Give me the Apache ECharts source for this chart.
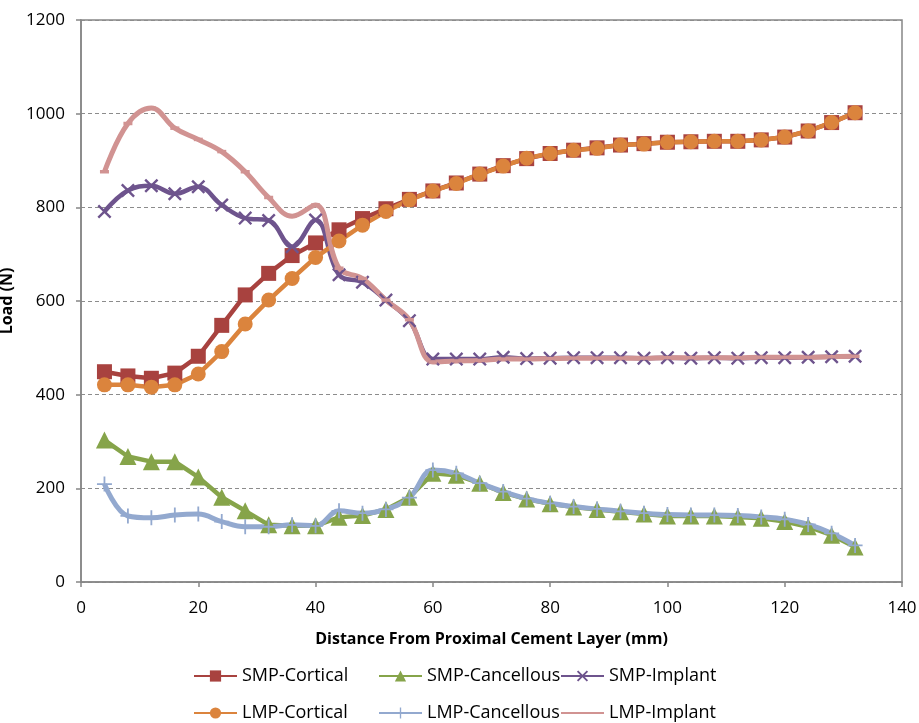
<!DOCTYPE html>
<html>
<head>
<meta charset="utf-8">
<script src="https://cdn.jsdelivr.net/npm/echarts@6/dist/echarts.min.js"></script>
<style>
html,body{margin:0;padding:0;background:#fff;}
#chart{width:919px;height:723px;}
</style>
</head>
<body>
<div id="chart"></div>
<script>
// Distance from proximal cement layer (mm)
var distances = [4,8,12,16,20,24,28,32,36,40,44,48,52,56,60,64,68,72,76,80,84,88,92,96,100,104,108,112,116,120,124,128,132];

var smpCortical   = [449,440,435,446,482,548,613,659,697,724,752,776,797,817,835,852,871,889,904,915,922,927,933,936,939,940,941,941,944,950,963,981,1002];
var smpCancellous = [303,268,257,257,224,181,152,122,120,120,138,142,155,181,232,228,211,191,177,167,160,155,150,145,141,141,141,139,136,129,118,100,75];
var smpImplant    = [791,836,846,829,844,805,777,772,716,773,656,640,602,558,476,476,476,480,477,478,479,479,479,478,479,478,479,478,479,479,480,481,482];
var lmpCortical   = [421,421,416,421,444,492,551,602,648,693,728,762,791,816,835,851,871,888,905,915,922,926,933,935,939,940,941,941,944,950,963,981,1002];
var lmpCancellous = [209,141,137,143,145,129,118,118,122,120,152,147,155,180,239,232,211,193,178,168,161,156,151,147,144,143,143,142,139,134,123,104,78];
var lmpImplant    = [876,979,1012,969,945,919,876,821,781,805,670,648,602,560,470,472,473,476,476,477,478,478,478,478,479,479,479,479,480,480,480,481,482];

var seriesNames = ['SMP-Cortical','SMP-Cancellous','SMP-Implant','LMP-Cortical','LMP-Cancellous','LMP-Implant'];
var yTicks = [0,200,400,600,800,1000,1200];
var xTicks = [0,20,40,60,80,100,120,140];

function pairs(arr){ return distances.map(function(d,i){ return [d, arr[i]]; }); }

var FONT = 'Open Sans';
var X_PATH = 'path://M0,1.2L1.2,0L5,3.8L8.8,0L10,1.2L6.2,5L10,8.8L8.8,10L5,6.2L1.2,10L0,8.8L3.8,5Z';
var PLUS_PATH = 'path://M4.4,0H5.6V4.4H10V5.6H5.6V10H4.4V5.6H0V4.4H4.4Z';

function mk(name, data, color, symbol, size, smooth, lw){
  return {
    name: name, type: 'line', data: pairs(data),
    smooth: smooth, symbol: symbol, symbolSize: size, showSymbol: true,
    lineStyle: {color: color, width: lw},
    itemStyle: {color: color, borderWidth: 0},
    emphasis: {disabled: true},
    animation: false
  };
}

var chart = echarts.init(document.getElementById('chart'), null, {renderer:'canvas'});
function legendAt(left, names){
  return {
    left: left, top: 667, orient: 'vertical', padding: 0, height: 100,
    itemWidth: 43, itemHeight: 14, itemGap: 19,
    textStyle: {fontFamily: FONT, fontSize: 18, color: '#000', lineHeight: 18},
    selectedMode: false, data: names
  };
}
chart.setOption({
  backgroundColor: '#fff',
  grid: {left: 81, right: 17, top: 20, bottom: 141, show: true, borderColor: '#868686', borderWidth: 1.5,
         outerBoundsMode: 'none', containLabel: false},
  legend: [
    legendAt(193, ['SMP-Cortical','LMP-Cortical']),
    legendAt(378, ['SMP-Cancellous','LMP-Cancellous']),
    legendAt(560, ['SMP-Implant', {name: 'LMP-Implant', itemStyle: {opacity: 0}}])
  ],
  xAxis: {
    type: 'value', min: xTicks[0], max: xTicks[xTicks.length-1], interval: 20,
    name: 'Distance From Proximal Cement Layer (mm)', nameLocation: 'middle', nameGap: 49,
    nameTextStyle: {fontFamily: FONT, fontSize: 16, fontWeight: 'bold', color: '#000'},
    axisLine: {lineStyle: {color: '#868686', width: 1.5}},
    axisTick: {show: true, length: 5, lineStyle: {color: '#868686', width: 1.5}},
    axisLabel: {fontFamily: FONT, fontSize: 17, color: '#000', margin: 18},
    splitLine: {show: false}
  },
  yAxis: {
    type: 'value', min: yTicks[0], max: yTicks[yTicks.length-1], interval: 200,
    name: 'Load (N)', nameLocation: 'middle', nameGap: 45, nameRotate: 90,
    nameTextStyle: {fontFamily: FONT, fontSize: 16, fontWeight: 'bold', color: '#000'},
    axisLine: {show: true, lineStyle: {color: '#868686', width: 1.5}},
    axisTick: {show: true, length: 5, lineStyle: {color: '#868686', width: 1.5}},
    axisLabel: {fontFamily: FONT, fontSize: 17, color: '#000', margin: 16,
                formatter: function(v){ return String(v); }},
    splitLine: {show: true, lineStyle: {color: '#8c8c8c', width: 1.2, type: [4,3]}}
  },
  series: [
    mk(seriesNames[0], smpCortical,   '#A8423F', 'rect', 15, false, 4.5),
    mk(seriesNames[1], smpCancellous, '#86A44A', 'triangle', 17, false, 4.5),
    mk(seriesNames[2], smpImplant,    '#6E548D', X_PATH, 14, 0.4, 4.5),
    mk(seriesNames[3], lmpCortical,   '#DB843D', 'circle', 15, false, 4.5),
    mk(seriesNames[4], lmpCancellous, '#93A9CF', PLUS_PATH, 15, 0.4, 5),
    mk(seriesNames[5], lmpImplant,    '#D19392', 'rect', [9,3.5], 0.4, 5)
  ]
});
</script>
</body>
</html>
